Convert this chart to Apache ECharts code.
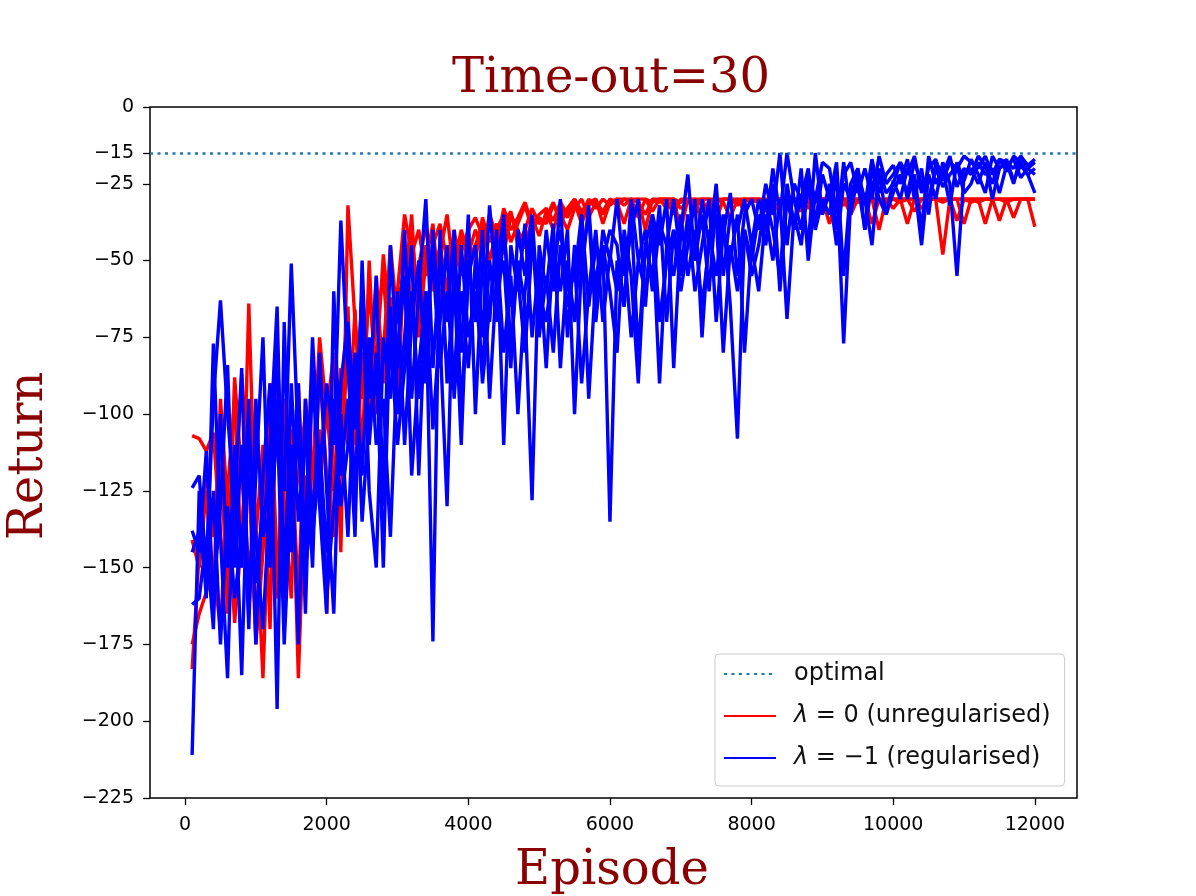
<!DOCTYPE html>
<html>
<head>
<meta charset="utf-8">
<script src="https://cdn.jsdelivr.net/npm/echarts@6/dist/echarts.min.js"></script>
<style>
  html, body { margin: 0; padding: 0; background: #fff; }
  #main { width: 1196px; height: 896px; }
</style>
</head>
<body>
<div id="main"></div>
<script>
// episodes at which the return was logged
var episodes = [
  100, 200, 300, 400, 500, 600, 700, 800, 900, 1000,
  1100, 1200, 1300, 1400, 1500, 1600, 1700, 1800, 1900, 2000,
  2100, 2200, 2300, 2400, 2500, 2600, 2700, 2800, 2900, 3000,
  3100, 3200, 3300, 3400, 3500, 3600, 3700, 3800, 3900, 4000,
  4100, 4200, 4300, 4400, 4500, 4600, 4700, 4800, 4900, 5000,
  5100, 5200, 5300, 5400, 5500, 5600, 5700, 5800, 5900, 6000,
  6100, 6200, 6300, 6400, 6500, 6600, 6700, 6800, 6900, 7000,
  7100, 7200, 7300, 7400, 7500, 7600, 7700, 7800, 7900, 8000,
  8100, 8200, 8300, 8400, 8500, 8600, 8700, 8800, 8900, 9000,
  9100, 9200, 9300, 9400, 9500, 9600, 9700, 9800, 9900, 10000,
  10100, 10200, 10300, 10400, 10500, 10600, 10700, 10800, 10900, 11000,
  11100, 11200, 11300, 11400, 11500, 11600, 11700, 11800, 11900, 12000
];

// lambda = 0 runs (unregularised)
var red1 = [
  -107, -108, -112, -106, -140, -155, -88, -120, -150, -135,
  -186, -120, -95, -140, -110, -160, -95, -120, -75, -100,
  -80, -145, -32, -70, -95, -60, -85, -48, -72, -60,
  -35, -48, -40, -55, -45, -38, -50, -42, -47, -40,
  -36, -42, -38, -45, -33, -40, -36, -31, -38, -35,
  -33, -37, -31, -35, -30, -34, -31, -30, -38, -31,
  -30, -32, -30, -31, -35, -30, -30, -33, -30, -31,
  -30, -30, -38, -30, -31, -30, -30, -30, -34, -30,
  -30, -31, -30, -30, -30, -39, -30, -30, -31, -30,
  -30, -30, -32, -30, -30, -30, -38, -30, -30, -30,
  -31, -30, -30, -30, -30, -30, -30, -30, -37, -30,
  -30, -30, -38, -30, -30, -30, -30, -30, -30, -30
];
var red2 = [
  -141, -150, -125, -160, -95, -130, -168, -140, -100, -170,
  -130, -90, -150, -125, -105, -186, -120, -140, -105, -165,
  -100, -120, -75, -110, -60, -90, -70, -55, -85, -65,
  -52, -40, -70, -45, -60, -48, -35, -55, -42, -50,
  -45, -38, -50, -40, -35, -44, -38, -32, -40, -36,
  -38, -32, -35, -40, -33, -30, -36, -31, -34, -30,
  -31, -38, -30, -30, -40, -30, -31, -30, -35, -30,
  -30, -33, -30, -30, -30, -31, -36, -30, -30, -31,
  -30, -30, -35, -30, -31, -30, -30, -33, -30, -30,
  -38, -30, -30, -30, -31, -30, -30, -40, -30, -30,
  -30, -38, -30, -30, -30, -30, -31, -30, -30, -30,
  -30, -30, -30, -30, -37, -30, -30, -30, -30, -39
];
var red3 = [
  -175, -165, -158, -150, -170, -125, -95, -150, -64, -140,
  -110, -170, -80, -130, -160, -90, -150, -115, -125, -98,
  -125, -85, -110, -66, -115, -50, -100, -80, -45, -70,
  -60, -35, -75, -50, -38, -65, -45, -52, -40, -48,
  -40, -47, -35, -42, -38, -34, -45, -40, -33, -38,
  -36, -31, -38, -33, -30, -35, -30, -33, -30, -32,
  -30, -30, -31, -30, -30, -34, -30, -30, -30, -40,
  -30, -31, -30, -35, -30, -30, -30, -32, -30, -30,
  -31, -30, -30, -30, -30, -30, -34, -30, -30, -30,
  -30, -30, -30, -35, -30, -30, -30, -30, -31, -30,
  -30, -30, -30, -33, -30, -30, -48, -30, -30, -30,
  -31, -30, -30, -30, -30, -31, -30, -30, -30, -30
];
var red4 = [
  -183, -145, -118, -140, -108, -165, -130, -87, -120, -175,
  -145, -105, -160, -95, -135, -120, -100, -135, -85, -120,
  -140, -95, -65, -130, -80, -105, -55, -90, -62, -100,
  -45, -65, -52, -38, -58, -45, -60, -40, -55, -44,
  -50, -36, -44, -38, -48, -35, -40, -46, -36, -42,
  -34, -40, -33, -36, -31, -38, -32, -30, -35, -30,
  -32, -30, -30, -36, -30, -31, -30, -30, -30, -33,
  -31, -30, -30, -30, -37, -30, -30, -31, -30, -30,
  -30, -34, -30, -30, -30, -30, -30, -30, -38, -30,
  -30, -31, -30, -30, -30, -30, -30, -30, -30, -33,
  -30, -30, -34, -30, -30, -30, -30, -30, -30, -38,
  -30, -31, -30, -30, -30, -30, -36, -30, -30, -30
];

// lambda = -1 runs (regularised)
var blue1 = [
  -211, -125, -160, -77, -140, -186, -110, -150, -95, -175,
  -120, -90, -196, -70, -145, -100, -165, -85, -130, -165,
  -60, -120, -95, -140, -50, -110, -80, -150, -65, -100,
  -75, -45, -120, -60, -174, -40, -90, -55, -110, -50,
  -70, -40, -95, -55, -35, -80, -50, -65, -128, -45,
  -60, -38, -85, -50, -70, -40, -95, -55, -45, -135,
  -50, -65, -35, -80, -45, -55, -32, -70, -40, -60,
  -45, -30, -75, -40, -55, -35, -65, -108, -40, -50,
  -35, -45, -25, -60, -30, -40, -20, -50, -28, -35,
  -25, -40, -18, -35, -22, -30, -45, -20, -28, -25,
  -18, -30, -22, -40, -16, -25, -20, -32, -18, -24,
  -17, -22, -28, -16, -20, -18, -25, -16, -20, -18
];
var blue2 = [
  -124, -120, -150, -95, -63, -100, -130, -85, -165, -120,
  -75, -150, -95, -125, -51, -110, -140, -75, -120, -90,
  -110, -37, -85, -125, -70, -95, -55, -130, -45, -85,
  -40, -95, -60, -30, -85, -50, -70, -40, -100, -55,
  -45, -75, -32, -60, -50, -85, -40, -55, -35, -70,
  -40, -60, -30, -75, -45, -55, -32, -65, -40, -50,
  -30, -55, -40, -30, -65, -35, -45, -30, -85, -40,
  -22, -50, -35, -60, -30, -42, -28, -55, -35, -30,
  -40, -25, -35, -15, -45, -25, -30, -20, -38, -22,
  -30, -18, -55, -25, -20, -32, -17, -28, -22, -19,
  -25, -17, -30, -20, -35, -18, -22, -16, -26, -20,
  -22, -16, -19, -25, -17, -21, -16, -18, -22, -28
];
var blue3 = [
  -138, -145, -112, -160, -130, -84, -150, -110, -170, -95,
  -140, -110, -65, -160, -90, -135, -105, -150, -80, -125,
  -165, -90, -70, -105, -60, -125, -150, -75, -95, -60,
  -110, -70, -50, -90, -40, -75, -130, -45, -80, -35,
  -100, -50, -70, -40, -110, -45, -60, -38, -75, -50,
  -85, -45, -60, -40, -100, -50, -35, -70, -45, -60,
  -80, -40, -55, -90, -45, -35, -70, -50, -40, -55,
  -35, -60, -45, -30, -70, -40, -50, -35, -80, -45,
  -60, -35, -50, -30, -69, -35, -45, -25, -40, -30,
  -35, -22, -77, -30, -25, -40, -20, -30, -35, -24,
  -30, -20, -25, -45, -22, -30, -18, -25, -55, -22,
  -20, -25, -18, -30, -20, -17, -24, -19, -22, -20
];
var blue4 = [
  -162, -160, -140, -170, -100, -150, -120, -185, -105, -140,
  -170, -125, -80, -150, -110, -175, -95, -140, -115, -160,
  -130, -100, -140, -85, -120, -75, -110, -95, -140, -80,
  -55, -120, -85, -60, -105, -70, -45, -95, -60, -85,
  -50, -90, -65, -45, -80, -55, -100, -60, -40, -75,
  -55, -80, -45, -65, -50, -90, -60, -40, -70, -48,
  -60, -45, -75, -50, -60, -40, -90, -45, -55, -35,
  -55, -40, -65, -45, -35, -80, -45, -60, -40, -55,
  -45, -30, -40, -55, -25, -38, -30, -45, -15, -35,
  -28, -45, -25, -30, -20, -40, -25, -22, -35, -28,
  -22, -28, -18, -25, -30, -20, -26, -22, -19, -28,
  -25, -18, -22, -20, -28, -19, -17, -23, -20, -22
];
var blue5 = [
  -145, -138, -155, -125, -175, -130, -160, -140, -120, -155,
  -130, -145, -100, -175, -125, -90, -150, -130, -110, -145,
  -95, -130, -110, -80, -135, -100, -90, -120, -75, -110,
  -85, -60, -95, -70, -50, -85, -60, -90, -45, -75,
  -60, -85, -50, -70, -40, -65, -55, -80, -45, -60,
  -70, -50, -40, -60, -55, -35, -65, -45, -50, -40,
  -45, -65, -30, -50, -40, -60, -38, -45, -30, -50,
  -40, -50, -30, -45, -25, -55, -35, -40, -30, -45,
  -30, -40, -20, -35, -15, -30, -40, -22, -30, -18,
  -20, -35, -22, -18, -28, -20, -30, -16, -25, -22,
  -18, -22, -16, -28, -20, -17, -24, -18, -20, -16,
  -18, -20, -16, -22, -17, -18, -20, -16, -19, -17
];

var optimalReturn = -15;
var xTicks = [0, 2000, 4000, 6000, 8000, 10000, 12000];
var yTicks = [0, -15, -25, -50, -75, -100, -125, -150, -175, -200, -225];

var redName = 'λ = 0 (unregularised)';
var blueName = 'λ = −1 (regularised)';

var myChart = echarts.init(document.getElementById('main'));

function pairs(values) {
    return values.map(function (v, i) { return [episodes[i], v]; });
}
function minus(v) {
    return String(v).replace('-', '\u2212');
}

var series = [{
    name: 'optimal',
    type: 'line',
    data: [],
    symbol: 'none',
    lineStyle: { color: '#1f77b4', width: 2.6, type: [3, 4.5] },
    itemStyle: { color: '#1f77b4' },
    markLine: {
        silent: true,
        symbol: 'none',
        label: { show: false },
        lineStyle: { color: '#1f77b4', width: 2.6, type: [3, 4.5] },
        data: [{ yAxis: optimalReturn }]
    }
}];
[red1, red2, red3, red4].forEach(function (run) {
    series.push({
        name: redName, type: 'line', symbol: 'none', data: pairs(run),
        lineStyle: { color: '#ff0000', width: 3.4 }, itemStyle: { color: '#ff0000' }
    });
});
[blue1, blue2, blue3, blue4, blue5].forEach(function (run) {
    series.push({
        name: blueName, type: 'line', symbol: 'none', data: pairs(run),
        lineStyle: { color: '#0000ff', width: 3.4 }, itemStyle: { color: '#0000ff' }
    });
});

var option = {
    animation: false,
    backgroundColor: '#fff',
    grid: {
        left: 150, right: 119, top: 107, bottom: 98,
        show: true, borderColor: '#000', borderWidth: 1.5, backgroundColor: 'transparent'
    },
    xAxis: {
        type: 'value',
        min: -495,
        max: 12595,
        axisLine: { show: false, onZero: false },
        splitLine: { show: false },
        axisTick: { show: true, length: 7, lineStyle: { color: '#000', width: 1.3 }, customValues: xTicks },
        axisLabel: {
            customValues: xTicks, margin: 18,
            fontFamily: 'DejaVu Sans', fontSize: 19, color: '#000',
            formatter: minus
        }
    },
    yAxis: {
        type: 'value',
        min: -225,
        max: 0,
        axisLine: { show: false, onZero: false },
        splitLine: { show: false },
        axisTick: { show: true, length: 7, lineStyle: { color: '#000', width: 1.3 }, customValues: yTicks },
        axisLabel: {
            customValues: yTicks, margin: 16,
            fontFamily: 'DejaVu Sans', fontSize: 19, color: '#000',
            formatter: minus
        }
    },
    legend: {
        orient: 'vertical',
        left: 715,
        top: 654,
        padding: [8, 14, 16, 8],
        itemGap: 18,
        itemWidth: 52,
        itemHeight: 14,
        backgroundColor: 'rgba(255,255,255,0.8)',
        borderColor: '#cccccc',
        borderWidth: 1,
        borderRadius: 4,
        itemStyle: { opacity: 0 },
        data: ['optimal', redName, blueName],
        formatter: function (name) {
            return name.replace('λ', '{i|λ}');
        },
        textStyle: {
            fontFamily: 'DejaVu Sans', fontSize: 24, color: '#111',
            padding: [0, 0, 0, 13],
            rich: { i: { fontFamily: 'DejaVu Sans', fontStyle: 'italic', fontSize: 24, color: '#111' } }
        }
    },
    graphic: [
        {
            type: 'text', x: 611, y: 104,
            style: { text: 'Time-out=30', font: '48px "DejaVu Serif"', fill: '#8b0000', textAlign: 'center', textVerticalAlign: 'bottom' }
        },
        {
            type: 'text', x: 612, y: 896,
            style: { text: 'Episode', font: '48px "DejaVu Serif"', fill: '#8b0000', textAlign: 'center', textVerticalAlign: 'bottom' }
        },
        {
            type: 'text', x: 30, y: 456, rotation: Math.PI / 2,
            style: { text: 'Return', font: '48px "DejaVu Serif"', fill: '#8b0000', textAlign: 'center', textVerticalAlign: 'middle' }
        }
    ],
    series: series
};

myChart.setOption(option, true);
window.addEventListener('resize', function () {
    myChart.resize();
});
</script>
</body>
</html>
